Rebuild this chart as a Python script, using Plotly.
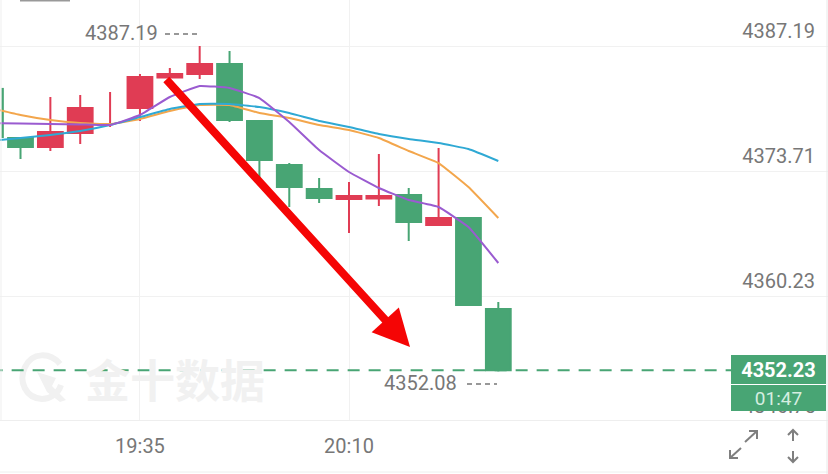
import plotly.graph_objects as go

day = "2024-01-01 "
candle_times = ["19:15","19:20","19:25","19:35","19:40","19:45","19:50","19:55","20:00","20:05","20:10","20:15","20:20","20:25","20:30","20:35"]
opens  = [4377.27,4376.30,4377.81,4380.50,4383.80,4384.17,4385.25,4379.10,4374.36,4371.77,4370.69,4370.74,4371.12,4367.89,4368.64,4358.83]
highs  = [4377.27,4381.69,4381.91,4384.17,4384.82,4387.19,4386.65,4379.15,4374.57,4372.95,4372.52,4375.54,4371.88,4376.19,4368.75,4359.58]
lows   = [4375.00,4375.87,4376.62,4379.10,4383.74,4383.63,4379.00,4372.95,4369.83,4370.26,4367.02,4369.94,4366.16,4367.89,4359.26,4352.08]
closes = [4376.30,4377.92,4380.50,4383.85,4384.17,4385.25,4379.21,4374.90,4371.98,4370.80,4371.01,4371.01,4368.21,4368.64,4359.26,4352.23]

ma_times = ["19:10","19:15","19:20","19:25","19:30","19:35","19:40","19:45","19:50","19:55","20:00","20:05","20:10","20:15","20:20","20:25","20:30","20:35"]
ma_purple = [4378.89,4378.83,4378.78,4378.73,4378.67,4379.75,4381.69,4382.88,4382.66,4381.58,4379.00,4375.97,4373.60,4371.88,4370.58,4369.83,4367.67,4363.79]
ma_blue   = [4376.95,4377.27,4377.59,4378.02,4378.67,4379.53,4380.40,4380.94,4380.94,4380.61,4379.96,4379.10,4378.46,4377.70,4377.16,4376.73,4376.08,4374.79]
ma_orange = [4380.50,4379.75,4379.21,4378.89,4378.78,4379.32,4380.18,4380.83,4380.83,4379.96,4379.43,4378.67,4378.13,4377.27,4375.87,4374.57,4371.98,4368.64]

wick_1930 = [4382.23, 4378.46]
wick_edge = [4382.67, 4377.27]

y_ticks = [4387.19, 4373.71, 4360.23]
x_ticks = ["19:35", "20:10"]
last_price = 4352.23
countdown = "01:47"
high_label = "4387.19"
low_label = "4352.08"

RED, GREEN = "#e03c54", "#48a574"
GRID = "#f1f1f1"
GRAY = "#777777"
FONT = "Roboto"
W, H = 828, 474
px = lambda v: v / W
py = lambda v: 1 - v / H

t = lambda s: day + s + ":00"
fig = go.Figure()

fig.add_trace(go.Scatter(x=[t("19:30")]*2, y=wick_1930, mode="lines", line=dict(color=RED, width=2), showlegend=False))
fig.add_trace(go.Scatter(x=[day+"19:12:00"]*2, y=wick_edge, mode="lines", line=dict(color=GREEN, width=2.5), showlegend=False))
fig.add_trace(go.Candlestick(
    x=[t(s) for s in candle_times], open=opens, high=highs, low=lows, close=closes,
    increasing=dict(line=dict(color=RED, width=2), fillcolor=RED),
    decreasing=dict(line=dict(color=GREEN, width=2), fillcolor=GREEN),
    whiskerwidth=0, showlegend=False))
for vals, col in [(ma_orange, "#f3a64c"), (ma_blue, "#2fa9d4"), (ma_purple, "#9a5bd0")]:
    fig.add_trace(go.Scatter(x=[t(s) for s in ma_times], y=vals, mode="lines",
                             line=dict(color=col, width=2, shape="spline", smoothing=0.3), showlegend=False))

def icon(points):
    d = " ".join(("M" if i == 0 else "L") + f" {px(a)},{py(b)}" for i, (a, b) in enumerate(points))
    return dict(type="path", xref="paper", yref="paper", path=d, line=dict(color="#7f7f7f", width=2))

shapes = [
    dict(type="line", xref="x", yref="y", x0=day+"19:10:00", x1=day+"21:30:00", y0=last_price, y1=last_price,
         line=dict(color=GREEN, width=2, dash="12px,9px"), layer="above"),
    dict(type="line", xref="paper", yref="paper", x0=0, x1=1, y0=py(472), y1=py(472), line=dict(color="#eeeeee", width=1)),
    dict(type="line", xref="paper", yref="paper", x0=px(1), x1=px(1), y0=py(0), y1=py(420), line=dict(color="#efefef", width=1)),
    dict(type="line", xref="paper", yref="paper", x0=px(827), x1=px(827), y0=py(0), y1=py(474), line=dict(color="#e8e8e8", width=1)),
    dict(type="rect", xref="paper", yref="paper", x0=px(20), x1=px(70), y0=py(0), y1=py(1.5), line=dict(width=0), fillcolor="#999999"),
    dict(type="line", xref="paper", yref="paper", x0=px(165), x1=px(197), y0=py(34), y1=py(34), line=dict(color=GRAY, width=1.5, dash="5px,4px")),
    dict(type="line", xref="paper", yref="paper", x0=px(467), x1=px(497), y0=py(384), y1=py(384), line=dict(color=GRAY, width=1.5, dash="5px,4px")),
    dict(type="path", xref="paper", yref="paper", layer="below", line=dict(color="#f1f1f1", width=6),
         path=f"M {px(60)},{py(364)} C {px(50)},{py(352)} {px(32)},{py(352)} {px(25)},{py(367)} C {px(18)},{py(382)} {px(26)},{py(398)} {px(42)},{py(399)} C {px(50)},{py(399)} {px(58)},{py(394)} {px(61)},{py(385)}"),
    dict(type="path", xref="paper", yref="paper", layer="below", line=dict(width=0), fillcolor="#f1f1f1",
         path=f"M {px(37)},{py(372)} L {px(56)},{py(378)} L {px(52)},{py(386)} L {px(66)},{py(400)} L {px(60)},{py(402)} L {px(47)},{py(392)} Z"),
    icon([(745, 442), (757, 431)]), icon([(749, 431), (757, 431), (757, 439)]),
    icon([(741, 448), (730, 458)]), icon([(730, 450), (730, 458), (738, 458)]),
    icon([(793, 441), (793, 430)]), icon([(788, 435), (793, 430), (798, 435)]),
    icon([(793, 451), (793, 462)]), icon([(788, 457), (793, 462), (798, 457)]),
]

def note(x, y, text, **kw):
    base = dict(xref="paper", yref="paper", x=px(x), y=py(y), xanchor="center", yanchor="middle",
                showarrow=False, text=text, borderpad=0, borderwidth=0,
                font=dict(family=FONT, size=20, color=GRAY))
    base.update(kw)
    return base

annotations = [
    note(175, 378, "<b>金十数据</b>", font=dict(family="Noto Sans CJK SC", size=45, color="#f1f1f1")),
    note(121.5, 33, high_label),
    note(420, 383, low_label),
    note(779, 406, "4346.75"),
    note(778.5, 369.5, f"<b>{last_price:.2f}</b>", bgcolor=GREEN, width=95, height=29,
         font=dict(family=FONT, size=20, color="#ffffff")),
    note(778.5, 398, countdown, bgcolor=GREEN, width=95, height=26,
         font=dict(family=FONT, size=19, color="#d5eee0")),
    dict(xref="x", yref="y", axref="x", ayref="y",
         x=day+"20:20:13", y=4354.73, ax=day+"19:39:11", ay=4383.74,
         text="", showarrow=True, arrowhead=2, arrowsize=0.92, arrowwidth=8, arrowcolor="#f50505"),
]

fig.update_layout(
    width=W, height=H, margin=dict(l=0, r=0, t=0, b=0),
    paper_bgcolor="white", plot_bgcolor="white", boxgap=0.17, boxgroupgap=0,
    shapes=shapes, annotations=annotations, showlegend=False,
    font=dict(family=FONT, size=20, color=GRAY),
    xaxis=dict(type="date", domain=[0, 1], range=[day+"19:11:34", day+"21:30:12"], rangeslider=dict(visible=False),
               tickmode="array", tickvals=[t(s) for s in x_ticks], ticktext=x_ticks,
               showgrid=True, gridcolor=GRID, gridwidth=1, zeroline=False, showline=True, linecolor="#eeeeee",
               ticks="", ticklabelstandoff=8, tickfont=dict(family=FONT, size=20, color=GRAY)),
    yaxis=dict(domain=[py(420), 1], range=[4346.86, 4392.15], side="right", tickmode="array",
               tickvals=y_ticks, ticktext=[f"{v:.2f}" for v in y_ticks], ticklabelposition="inside top",
               showgrid=True, gridcolor=GRID, gridwidth=1, zeroline=False, showline=False, ticks="",
               ticklabelstandoff=10, ticklabelshift=-1, tickfont=dict(family=FONT, size=20, color=GRAY)),
)

fig.write_html("out.html", config=dict(displayModeBar=False),
               post_script="document.body.style.margin='0';document.body.style.overflow='hidden';")
